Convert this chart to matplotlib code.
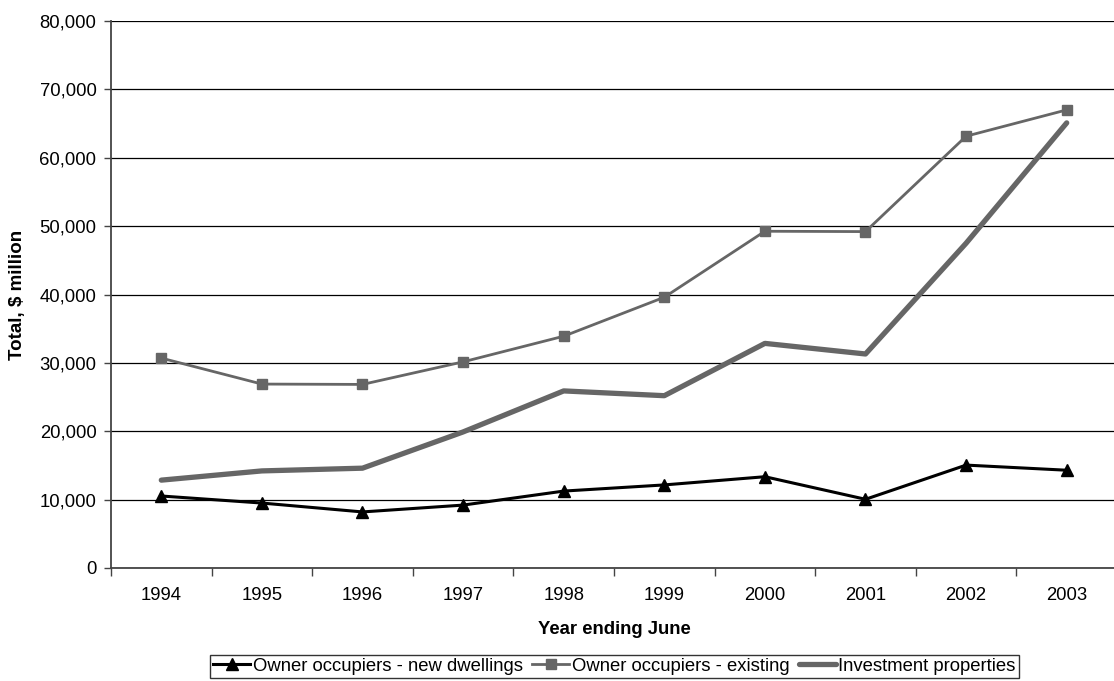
import matplotlib.pyplot as plt
import numpy as np

plt.rcParams['font.family'] = ['Liberation Sans', 'DejaVu Sans']

years = ['1994', '1995', '1996', '1997', '1998', '1999', '2000', '2001', '2002', '2003']
new_dwellings = [10530, 9500, 8200, 9200, 11250, 12150, 13350, 10050, 15050, 14300]
existing = [30700, 26900, 26850, 30150, 33900, 39600, 49250, 49200, 63150, 67000]
investment = [12850, 14200, 14600, 19900, 25900, 25200, 32850, 31300, 47500, 65100]

fig = plt.figure(figsize=(11.14, 6.81), dpi=100)
ax = fig.add_axes([111 / 1114, 1 - 568 / 681, 1006 / 1114, 547 / 681])

x = np.arange(len(years))
ax.plot(x, new_dwellings, color='black', lw=2.2, marker='^', ms=9,
        label='Owner occupiers - new dwellings', zorder=5)
ax.plot(x, existing, color='#666666', lw=2, marker='s', ms=6.5,
        label='Owner occupiers - existing', zorder=4)
ax.plot(x, investment, color='#666666', lw=3.8, solid_capstyle='round',
        label='Investment properties', zorder=3)

ax.set_xlim(-0.5, len(years) - 0.5)
ax.set_ylim(0, 80000)
ax.set_yticks(np.arange(0, 80001, 10000))
ax.set_yticklabels([f'{v:,}' for v in range(0, 80001, 10000)], fontsize=13.3)
ax.yaxis.grid(True, color='black', lw=0.9)
ax.set_axisbelow(True)

# category labels centred, tick marks on the boundaries between them
ax.set_xticks(np.arange(-0.5, len(years), 1.0))
ax.set_xticklabels([])
ax.set_xticks(x, minor=True)
ax.set_xticklabels(years, minor=True, fontsize=13.3)
ax.tick_params(axis='x', which='minor', length=0, pad=14)
ax.tick_params(axis='x', which='major', length=6, width=1, color='#444444')
ax.tick_params(axis='y', length=5, width=1, color='#444444', pad=5.5)

for side in ['top', 'right']:
    ax.spines[side].set_visible(False)
ax.spines['left'].set_color('#444444')
ax.spines['left'].set_linewidth(1.3)
ax.spines['bottom'].set_color('#444444')
ax.spines['bottom'].set_linewidth(1.3)

ax.set_xlabel('Year ending June', fontsize=13.3, fontweight='bold', labelpad=12)
ax.set_ylabel('Total, $ million', fontsize=13.5, fontweight='bold', labelpad=10)

leg = fig.legend(loc='upper center', bbox_to_anchor=(614.5 / 1114, 1 - 655 / 681),
                 ncol=3, fontsize=13.3, frameon=True, fancybox=False,
                 edgecolor='black', handlelength=2.0, handletextpad=0.15,
                 columnspacing=0.5, borderpad=0.15, borderaxespad=0.0)
leg.get_frame().set_linewidth(1.0)

fig.savefig('out.png', dpi=100)
